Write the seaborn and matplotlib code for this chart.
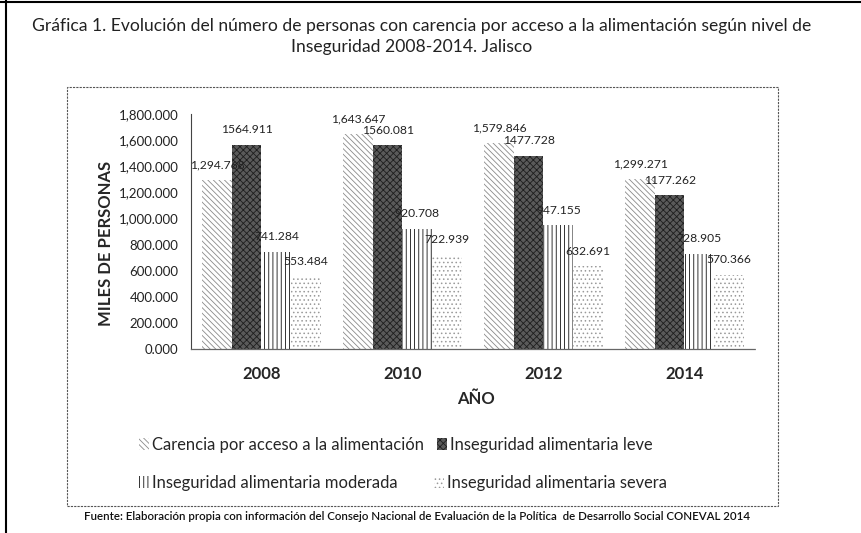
import seaborn as sns
import matplotlib.pyplot as plt
import matplotlib.patches as mpatches
import matplotlib.lines as mlines
from matplotlib.ticker import FuncFormatter
import pandas as pd

sns.set_style("white")
plt.rcParams['font.family'] = ['Lato', 'DejaVu Sans']
plt.rcParams['hatch.linewidth'] = 0.6

# Data (miles de personas)
years = ["2008", "2010", "2012", "2014"]
series = [
    "Carencia por acceso a la alimentación",
    "Inseguridad alimentaria leve",
    "Inseguridad alimentaria moderada",
    "Inseguridad alimentaria severa",
]
carencia = [1294.768, 1643.647, 1579.846, 1299.271]
leve = [1564.911, 1560.081, 1477.728, 1177.262]
moderada = [741.284, 920.708, 947.155, 728.905]
severa = [553.484, 722.939, 632.691, 570.366]

values = [carencia, leve, moderada, severa]
rows = []
for name, vals in zip(series, values):
    for yr, v in zip(years, vals):
        rows.append({"year": yr, "serie": name, "value": v})
df = pd.DataFrame(rows)

# bar styles: face, hatch colour, hatch
styles = [
    ("white", "#8a8a8a", "\\\\\\\\\\\\"),
    ("#5a5a5a", "#1e1e1e", "xxxxx"),
    ("white", "#111111", "||||"),
    ("white", "#9a9a9a", "...."),
]

fig = plt.figure(figsize=(8.62, 5.33), dpi=100)
ax = fig.add_axes([191 / 862, 1 - 349 / 533, 564 / 862, 235 / 533])

sns.barplot(data=df, x="year", y="value", hue="serie", order=years,
            hue_order=series, width=0.84, gap=0, ax=ax, legend=False,
            edgecolor="none")

for i, cont in enumerate(ax.containers):
    face, hcol, hatch = styles[i]
    for bar in cont:
        bar.set_facecolor(face)
        bar.set_edgecolor(hcol)
        bar.set_hatch(hatch)
        bar.set_linewidth(0)
    if i == 0:
        labels = [f"{v:,.3f}" for v in values[i]]
    else:
        labels = [f"{v:.3f}" for v in values[i]]
    ax.bar_label(cont, labels=labels, padding=7, fontsize=8.7, color="#222")

ax.set_ylim(0, 1800)
ax.set_yticks(range(0, 1801, 200))
ax.yaxis.set_major_formatter(FuncFormatter(lambda v, p: f"{v:,.3f}"))
ax.tick_params(axis="y", length=0, pad=9, labelsize=9.5, colors="#222")
ax.tick_params(axis="x", length=0, pad=12, labelsize=12)
for t in ax.get_xticklabels():
    t.set_fontweight("bold")

ax.set_ylabel("MILES DE PERSONAS", fontsize=12, fontweight="bold")
ax.yaxis.set_label_coords(-0.137, 0.45)
ax.set_xlabel("AÑO", fontsize=12, fontweight="bold")
ax.xaxis.set_label_coords(0.505, -0.179)

for s in ["top", "right"]:
    ax.spines[s].set_visible(False)
ax.spines["left"].set_color("#444")
ax.spines["left"].set_linewidth(0.8)
ax.spines["bottom"].set_color("#666")
ax.spines["bottom"].set_linewidth(0.9)
ax.spines["bottom"].set_linestyle((0, (1, 1)))

# title
fig.text(422 / 862, 1 - 26 / 533,
         "Gráfica 1. Evolución del número de personas con carencia por acceso a la alimentación según nivel de",
         ha="center", va="center", fontsize=12.6, color="#222")
fig.text(412 / 862, 1 - 47 / 533, "Inseguridad 2008-2014. Jalisco",
         ha="center", va="center", fontsize=12.6, color="#222")

# legend laid out like the original (two rows, two columns)
handles = []
for face, hcol, hatch in styles:
    handles.append(mpatches.Patch(facecolor=face, edgecolor=hcol, hatch=hatch, linewidth=0))
leg_pos = [(139, 445), (437, 445), (139, 483), (434, 483)]
for h, name, (px, py) in zip(handles, series, leg_pos):
    fig.legend(handles=[h], labels=[name], loc="center left",
               bbox_to_anchor=(px / 862, 1 - py / 533), frameon=False,
               borderpad=0, borderaxespad=0, handlelength=0.6,
               handleheight=0.7, handletextpad=0.2, fontsize=11.9)

# frames
fig.add_artist(mpatches.Rectangle((67 / 862, 1 - 506 / 533), 711 / 862, 419 / 533,
                                  transform=fig.transFigure, fill=False,
                                  edgecolor="#555", linewidth=0.8, linestyle=(0, (2, 1))))
fig.add_artist(mlines.Line2D([6 / 862, 6 / 862], [0, 1], transform=fig.transFigure,
                             color="black", linewidth=1.5))
fig.add_artist(mlines.Line2D([0, 1], [1 - 2 / 533, 1 - 2 / 533], transform=fig.transFigure,
                             color="black", linewidth=1.5))

fig.text(84 / 862, 1 - 517 / 533,
         "Fuente: Elaboración propia con información del Consejo Nacional de Evaluación de la Política  de Desarrollo Social CONEVAL 2014",
         ha="left", va="center", fontsize=8.3, fontweight="semibold", color="#111")

fig.savefig("out.png", dpi=100)
plt.close(fig)
